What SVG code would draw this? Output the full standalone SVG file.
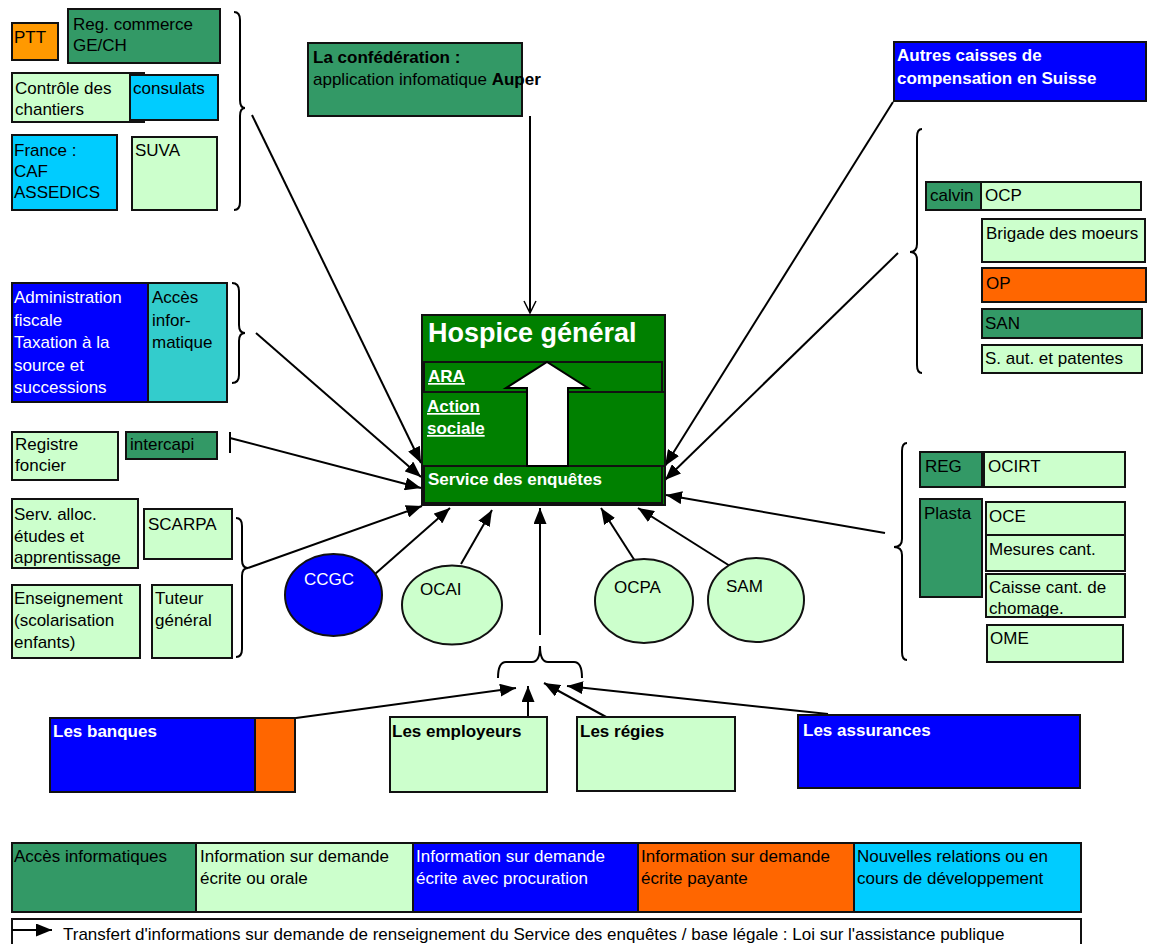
<svg xmlns="http://www.w3.org/2000/svg" width="1149" height="944" viewBox="0 0 1149 944">
<style>
text{font-family:"Liberation Sans",Arial,sans-serif;font-size:17px;fill:#000}
.w{fill:#fff}
.b{font-weight:bold}
.u{text-decoration:underline}
rect,ellipse{stroke:#111;stroke-width:2}
.dg{fill:#339966}.lg{fill:#CCFFCC}.bl{fill:#0000FF}.cy{fill:#00CCFF}.or{fill:#FF6600}.ptt{fill:#FF9900}.tl{fill:#33CCCC}.hg{fill:#008000}
.c{stroke:#000;stroke-width:2;fill:none}
.ca{stroke:#000;stroke-width:2;fill:none;marker-end:url(#ah)}
.br{stroke:#000;stroke-width:2;fill:none}
</style>
<defs>
<marker id="ah" markerUnits="userSpaceOnUse" markerWidth="16" markerHeight="13" viewBox="0 0 16 13" refX="16" refY="6.5" orient="auto"><path d="M0,0 L16,6.5 L0,13 z" fill="#000"/></marker>
<marker id="oa" markerUnits="userSpaceOnUse" markerWidth="14" markerHeight="14" viewBox="0 0 14 14" refX="13" refY="7" orient="auto"><path d="M1,1 L13,7 L1,13" fill="none" stroke="#000" stroke-width="1.5"/></marker>
<clipPath id="clipCaisse"><rect x="986" y="574" width="139" height="42"/></clipPath>
</defs>

<g id="connectors">
<line class="ca" x1="252" y1="115" x2="421" y2="463"/>
<line class="ca" x1="256" y1="333" x2="421" y2="477"/>
<line class="c" x1="230" y1="432" x2="230" y2="453"/>
<line class="ca" x1="230" y1="438" x2="421" y2="488"/>
<line class="ca" x1="248" y1="568" x2="422" y2="506"/>
<line class="ca" x1="375" y1="574" x2="450" y2="508"/>
<line class="ca" x1="461" y1="564" x2="492" y2="510"/>
<line class="ca" x1="540" y1="635" x2="540" y2="508"/>
<line class="ca" x1="635" y1="561" x2="601" y2="508"/>
<line class="ca" x1="730" y1="566" x2="638" y2="508"/>
<line class="ca" x1="885" y1="533" x2="666" y2="495"/>
<line class="ca" x1="898" y1="253" x2="665" y2="480"/>
<line class="ca" x1="893" y1="102" x2="665" y2="466"/>
<line class="c" x1="530" y1="116" x2="530" y2="313" marker-end="url(#oa)"/>
<line class="ca" x1="296" y1="718" x2="516" y2="688"/>
<line class="ca" x1="528" y1="717" x2="528" y2="686"/>
<line class="ca" x1="608" y1="718" x2="544" y2="683"/>
<line class="ca" x1="828" y1="714" x2="567" y2="686"/>
<path class="br" d="M234,12 Q240,12 240,20 L240,100 Q240,108 245,108 Q240,108 240,116 L240,202 Q240,210 234,210"/>
<path class="br" d="M232,283 Q239,283 239,291 L239,325 Q239,333 245,333 Q239,333 239,341 L239,375 Q239,383 232,383"/>
<path class="br" d="M236,518 Q242,518 242,526 L242,560 Q242,568 248,568 Q242,568 242,576 L242,649 Q242,657 236,657"/>
<path class="br" d="M922,129 Q917,129 917,137 L917,244 Q917,252 910,252 Q917,252 917,260 L917,365 Q917,373 922,373"/>
<path class="br" d="M907,443 Q902,443 902,451 L902,539 Q902,547 894,547 Q902,547 902,555 L902,652 Q902,660 907,660"/>
<path class="br" d="M498,678 Q498,662 506,662 L532,662 Q540,662 540,646 Q540,662 548,662 L574,662 Q582,662 582,678"/>
</g>

<g id="ptt"><rect class="ptt" x="12" y="23" width="46" height="37"/><text x="14" y="43">PTT</text></g>
<g id="regcommerce"><rect class="dg" x="68" y="9" width="152" height="54"/><text x="73" y="30">Reg. commerce</text><text x="73" y="51">GE/CH</text></g>
<g id="controle"><rect class="lg" x="12" y="73" width="132" height="49"/><text x="15" y="94">Contrôle des</text><text x="15" y="115">chantiers</text></g>
<g id="consulats"><rect class="cy" x="130" y="75" width="88" height="45"/><text x="133" y="94">consulats</text></g>
<g id="france"><rect class="cy" x="12" y="135" width="105" height="75"/><text x="14" y="156">France :</text><text x="14" y="177">CAF</text><text x="14" y="198">ASSEDICS</text></g>
<g id="suva"><rect class="lg" x="132" y="137" width="85" height="73"/><text x="135" y="156">SUVA</text></g>

<g id="confederation"><rect class="dg" x="308" y="43" width="214" height="73"/><text x="313" y="63" class="b">La confédération :</text><text x="313" y="85">application infomatique <tspan class="b">Auper</tspan></text></g>

<g id="hospice">
<rect class="hg" x="422" y="315" width="243" height="190"/>
<rect class="hg" x="424" y="362" width="238" height="30"/>
<rect class="hg" x="422" y="392" width="243" height="74"/>
<rect class="hg" x="424" y="466" width="238" height="37"/>
<polygon points="527,466 568,466 568,388 588,388 547,362 506,388 527,388" fill="#fff" stroke="#000" stroke-width="2"/>
<text x="428" y="342" class="w b" style="font-size:27px">Hospice général</text>
<text x="428" y="382" class="w b u">ARA </text>
<text x="427" y="412" class="w b u">Action </text>
<text x="427" y="434" class="w b u">sociale</text>
<text x="428" y="485" class="w b">Service des enquêtes</text>
</g>

<g id="autres"><rect class="bl" x="894" y="42" width="252" height="59"/><text x="897" y="61" class="w b">Autres caisses de</text><text x="897" y="84" class="w b">compensation en Suisse</text></g>
<g id="calvin"><rect class="dg" x="926" y="182" width="55" height="28"/><text x="930" y="201">calvin</text></g>
<g id="ocp"><rect class="lg" x="981" y="182" width="160" height="28"/><text x="985" y="201">OCP</text></g>
<g id="brigade"><rect class="lg" x="982" y="219" width="163" height="43"/><text x="986" y="239">Brigade des moeurs</text></g>
<g id="op"><rect class="or" x="982" y="268" width="164" height="34"/><text x="986" y="289">OP</text></g>
<g id="san"><rect class="dg" x="982" y="309" width="160" height="29"/><text x="985" y="329">SAN</text></g>
<g id="saut"><rect class="lg" x="982" y="345" width="160" height="28"/><text x="985" y="364">S. aut. et patentes</text></g>

<g id="adminfiscale"><rect class="bl" x="12" y="283" width="136" height="119"/><text x="14" y="303" class="w">Administration</text><text x="14" y="326" class="w">fiscale</text><text x="14" y="348" class="w">Taxation à la</text><text x="14" y="371" class="w">source et</text><text x="14" y="393" class="w">successions</text></g>
<g id="accesinfo"><rect class="tl" x="148" y="283" width="79" height="119"/><text x="152" y="303">Accès</text><text x="152" y="326">infor-</text><text x="152" y="348">matique</text></g>
<g id="registre"><rect class="lg" x="12" y="432" width="106" height="48"/><text x="15" y="450">Registre</text><text x="15" y="471">foncier</text></g>
<g id="intercapi"><rect class="dg" x="126" y="432" width="91" height="27"/><text x="130" y="450">intercapi</text></g>
<g id="servalloc"><rect class="lg" x="12" y="499" width="126" height="69"/><text x="14" y="520">Serv. alloc.</text><text x="14" y="542">études et</text><text x="14" y="563">apprentissage</text></g>
<g id="scarpa"><rect class="lg" x="144" y="509" width="88" height="50"/><text x="148" y="530">SCARPA</text></g>
<g id="enseignement"><rect class="lg" x="12" y="585" width="128" height="73"/><text x="14" y="604">Enseignement</text><text x="14" y="626">(scolarisation</text><text x="14" y="648">enfants)</text></g>
<g id="tuteur"><rect class="lg" x="152" y="585" width="80" height="73"/><text x="155" y="604">Tuteur</text><text x="155" y="626">général</text></g>

<g id="ccgc"><ellipse class="bl" cx="333.5" cy="595" rx="48.5" ry="41"/><text x="304" y="585" class="w">CCGC</text></g>
<g id="ocai"><ellipse class="lg" cx="452" cy="605" rx="50" ry="39.5"/><text x="420" y="595">OCAI</text></g>
<g id="ocpa"><ellipse class="lg" cx="644" cy="601" rx="49" ry="42"/><text x="614" y="593">OCPA</text></g>
<g id="sam"><ellipse class="lg" cx="756" cy="600" rx="48" ry="42"/><text x="726" y="592">SAM</text></g>

<g id="reg"><rect class="dg" x="920" y="452" width="62" height="35"/><text x="925" y="472">REG</text></g>
<g id="ocirt"><rect class="lg" x="984" y="452" width="141" height="35"/><text x="988" y="472">OCIRT</text></g>
<g id="plasta"><rect class="dg" x="920" y="499" width="62" height="98"/><text x="924" y="519">Plasta</text></g>
<g id="oce"><rect class="lg" x="986" y="502" width="139" height="33"/><text x="989" y="522">OCE</text></g>
<g id="mesures"><rect class="lg" x="986" y="535" width="139" height="36"/><text x="989" y="555">Mesures cant.</text></g>
<g id="caisse"><rect class="lg" x="986" y="574" width="139" height="43"/><text x="989" y="593">Caisse cant. de</text><text x="989" y="614" clip-path="url(#clipCaisse)">chomage.</text></g>
<g id="ome"><rect class="lg" x="987" y="625" width="136" height="37"/><text x="990" y="644">OME</text></g>

<g id="banques"><rect class="bl" x="50" y="718" width="205" height="74"/><rect class="or" x="255" y="718" width="40" height="74"/><text x="53" y="737" class="w b">Les banques</text></g>
<g id="employeurs"><rect class="lg" x="390" y="717" width="157" height="75"/><text x="392" y="737" class="b">Les employeurs</text></g>
<g id="regies"><rect class="lg" x="577" y="717" width="158" height="74"/><text x="580" y="737" class="b">Les régies</text></g>
<g id="assurances"><rect class="bl" x="798" y="715" width="282" height="73"/><text x="803" y="736" class="w b">Les assurances</text></g>

<g id="legend">
<rect class="dg" x="12" y="843" width="184" height="69"/>
<rect class="lg" x="196" y="843" width="217" height="69"/>
<rect class="bl" x="413" y="843" width="225" height="69"/>
<rect class="or" x="638" y="843" width="216" height="69"/>
<rect class="cy" x="854" y="843" width="227" height="69"/>
<text x="14" y="862">Accès informatiques</text>
<text x="200" y="862">Information sur demande</text><text x="200" y="884">écrite ou orale</text>
<text x="416" y="862" class="w">Information sur demande</text><text x="416" y="884" class="w">écrite avec procuration</text>
<text x="641" y="862">Information sur demande</text><text x="641" y="884">écrite payante</text>
<text x="857" y="862">Nouvelles relations ou en</text><text x="857" y="884">cours de développement</text>
</g>
<g id="legend-note">
<rect x="12" y="919" width="1069" height="40" fill="#fff"/>
<line class="ca" x1="12" y1="930" x2="52" y2="930"/>
<text x="63" y="940">Transfert d'informations sur demande de renseignement du Service des enquêtes / base légale : Loi sur l'assistance publique</text>
</g>
</svg>
